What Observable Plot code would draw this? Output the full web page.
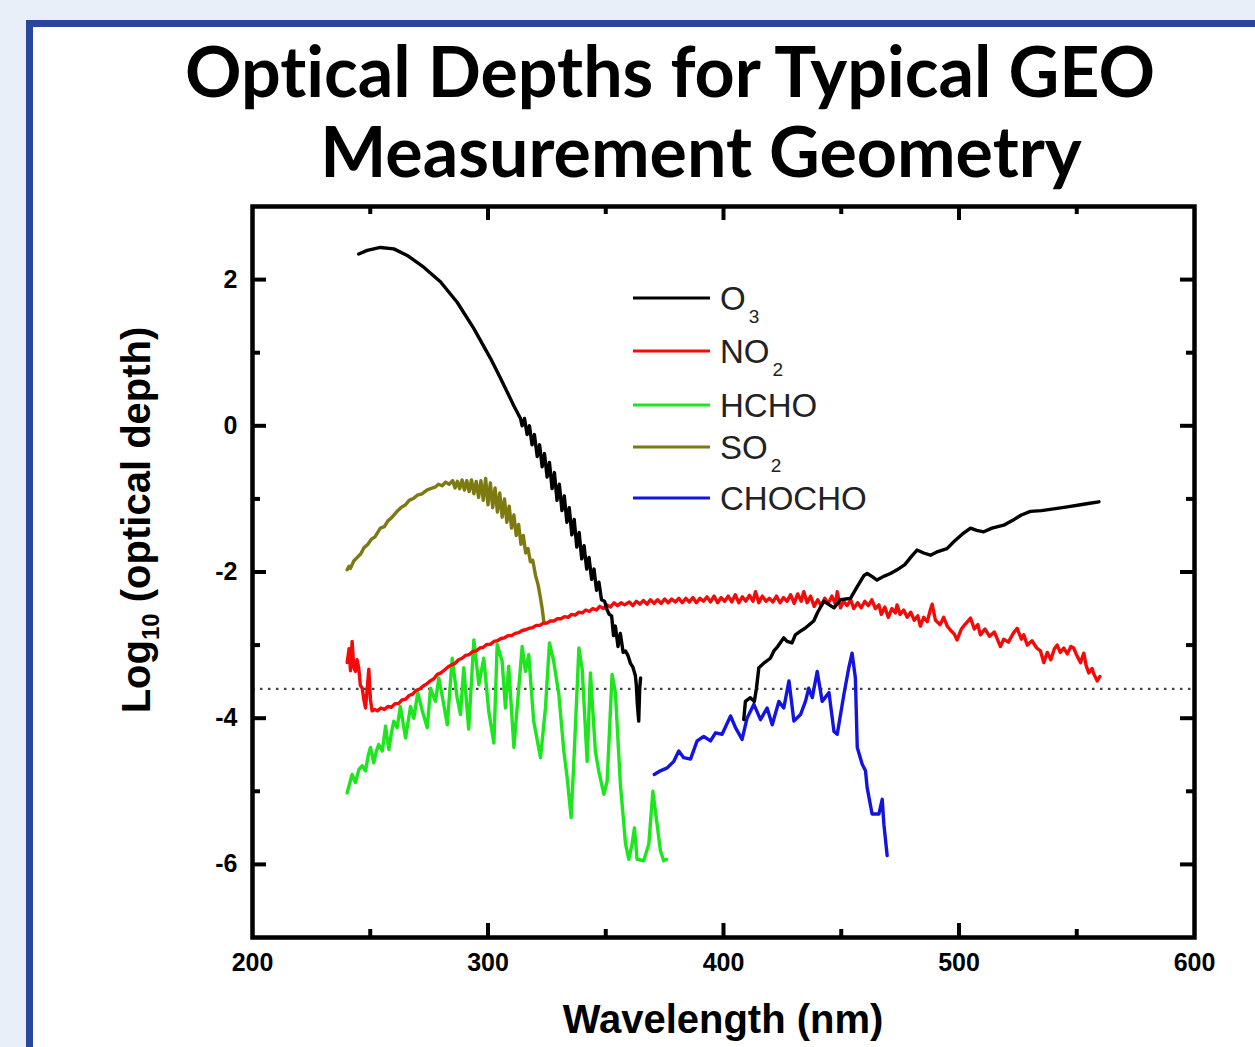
<!DOCTYPE html>
<html><head><meta charset="utf-8">
<script src="https://cdn.jsdelivr.net/npm/d3@7"></script>
<script src="https://cdn.jsdelivr.net/npm/@observablehq/plot@0.6"></script>
<style>
html,body{margin:0;padding:0;overflow:hidden;}
body{width:1255px;height:1047px;background:#e8eff9;position:relative;font-family:"Liberation Sans",Arial,sans-serif;}
#panel{position:absolute;left:26px;top:20px;width:1320px;height:1120px;border:7px solid #2a469c;background:#fff;box-sizing:border-box;}
.title{position:absolute;left:0;font-family:Lato,"Noto Sans",sans-serif;font-weight:700;font-size:70px;line-height:1;color:#000;text-align:center;white-space:nowrap;font-variant-ligatures:none;font-feature-settings:"liga" 0,"clig" 0;}
#chart{position:absolute;left:0;top:190px;}
</style></head><body>
<div id="panel"></div>
<div class="title" style="top:35px;width:1340px">Optical Depths for Typical GEO</div>
<div class="title" style="top:115px;width:1402px">Measurement Geometry</div>
<div id="chart"></div>
<script>
// ---------- data (wavelength nm, log10 optical depth) ----------
const o3UV = [[245.1,2.35],[248.7,2.40],[254.3,2.44],[260.0,2.42],[265.7,2.33],[272.7,2.17],[279.8,1.97],[286.9,1.69],[294.0,1.33],[301.1,0.92],[305.0,0.67],[308.2,0.46],[311.0,0.27],[313.8,0.10],
[314.5,0.00],[315.5,0.10],[316.6,-0.12],[317.6,0.00],[318.7,-0.26],[319.7,-0.12],[320.9,-0.42],[321.9,-0.26],[323.0,-0.56],[324.0,-0.38],[325.1,-0.70],[326.1,-0.50],[327.2,-0.86],[328.2,-0.64],[329.3,-1.02],[330.3,-0.80],[331.4,-1.16],[332.4,-0.96],[333.5,-1.32],[334.5,-1.12],[335.6,-1.49],[336.6,-1.28],[337.7,-1.66],[338.7,-1.46],[339.8,-1.82],[340.8,-1.64],[341.9,-1.96],[342.9,-1.80],[344.0,-2.10],[345.0,-1.96],[346.1,-2.25],[347.1,-2.14],[348.2,-2.38],[349.5,-2.40],[350.6,-2.52],[351.5,-2.58],[352.5,-2.60],[353.3,-2.87],[354.1,-2.74],[355.2,-3.02],[356.2,-2.84],[357.4,-3.10],[358.4,-3.08],[359.4,-3.14],[360.5,-3.25],[361.5,-3.30],[362.6,-3.42],[363.0,-3.55],[363.4,-3.80],[364.0,-4.04],[364.4,-3.60],[364.8,-3.45]];

const o3Vis = [[408.6,-4.02],[409.3,-3.77],[411.4,-3.72],[413.1,-3.77],[414.0,-3.59],[415.0,-3.31],[417.0,-3.25],[419.9,-3.18],[421.4,-3.08],[423.0,-3.02],[425.6,-2.90],[427.0,-2.95],[429.1,-2.97],[430.5,-2.86],[432.7,-2.81],[435.0,-2.76],[438.3,-2.67],[440.0,-2.55],[442.6,-2.40],[444.5,-2.44],[446.9,-2.49],[449.7,-2.38],[453.9,-2.36],[456.8,-2.20],[459.6,-2.05],[461.0,-2.02],[463.0,-2.06],[465.2,-2.11],[468.0,-2.06],[470.9,-2.02],[473.7,-1.97],[477.0,-1.90],[480.0,-1.78],[482.2,-1.70],[485.0,-1.74],[487.9,-1.77],[491.0,-1.72],[494.9,-1.68],[498.0,-1.58],[501.5,-1.48],[504.9,-1.40],[507.5,-1.43],[510.5,-1.45],[514.0,-1.40],[519.0,-1.36],[523.0,-1.29],[526.5,-1.22],[530.3,-1.17],[535.0,-1.16],[541.7,-1.13],[546.0,-1.11],[551.6,-1.08],[555.5,-1.06],[559.4,-1.04]];

const no2 = [[240.2,-3.24],[241.0,-3.05],[241.6,-3.35],[242.3,-2.95],[243.0,-3.30],[243.7,-3.36],[244.4,-3.20],[245.1,-3.31],[245.8,-3.55],[246.6,-3.59],[247.3,-3.75],[248.0,-3.86],[248.7,-3.60],[249.4,-3.33],[250.1,-3.75],[250.8,-3.90],[252.0,-3.88],[253.0,-3.90],[254.5,-3.86],[256.0,-3.88],[257.5,-3.84],[259.0,-3.85],[260.5,-3.80],[262.0,-3.80],[263.5,-3.75],[265.0,-3.74],[266.5,-3.69],[268.0,-3.67],[269.5,-3.62],[271.0,-3.60],[272.5,-3.56],[274.0,-3.53],[275.5,-3.49],[277.0,-3.46],[278.5,-3.40],[280.0,-3.38],[281.5,-3.34],[283.0,-3.30],[284.5,-3.27],[286.0,-3.25],[287.5,-3.20],[289.0,-3.18],[290.5,-3.14],[292.0,-3.13],[293.5,-3.09],[295.0,-3.08],[296.5,-3.04],[298.0,-3.03],[299.5,-2.99],[301.0,-2.99],[302.5,-2.95],[304.0,-2.94],[305.5,-2.91],[307.0,-2.90],[308.5,-2.87],[310.0,-2.87],[311.5,-2.84],[313.0,-2.83],[314.5,-2.80],[316.0,-2.79],[317.5,-2.77],[319.0,-2.76],[320.5,-2.73],[322.0,-2.73],[323.5,-2.70],[325.0,-2.70],[326.5,-2.67],[328.0,-2.67],[329.5,-2.64],[331.0,-2.64],[332.5,-2.61],[334.0,-2.62],[335.5,-2.58],[337.0,-2.59],[338.5,-2.55],[340.0,-2.56],[341.5,-2.52],[343.0,-2.54],[344.5,-2.50],[346.0,-2.52],[347.5,-2.47],[349.0,-2.50],[350.5,-2.45],[352.0,-2.48],[353.5,-2.42],[355.0,-2.46],[356.5,-2.42],[358.0,-2.45],
[360.0,-2.41],[361.5,-2.46],[363.0,-2.40],[364.5,-2.44],[366.0,-2.39],[367.5,-2.44],[369.0,-2.38],[370.5,-2.43],[372.0,-2.38],[373.5,-2.43],[375.0,-2.37],[376.5,-2.42],[378.0,-2.37],[379.5,-2.41],[381.0,-2.36],[382.5,-2.42],[384.0,-2.36],[385.5,-2.41],[387.0,-2.35],[388.5,-2.42],[390.0,-2.36],[391.5,-2.40],[393.0,-2.34],[394.5,-2.41],[396.0,-2.33],[397.5,-2.42],[399.0,-2.35],[400.5,-2.40],[402.0,-2.33],[403.5,-2.41],[405.0,-2.31],[406.5,-2.42],[408.0,-2.34],[409.5,-2.40],[411.0,-2.32],[412.5,-2.40],[413.6,-2.27],[415.0,-2.42],[416.5,-2.33],[418.0,-2.40],[419.5,-2.36],[421.0,-2.41],[422.5,-2.33],[424.0,-2.42],[425.5,-2.35],[427.0,-2.40],[428.5,-2.31],[430.0,-2.43],[431.5,-2.30],[433.0,-2.40],[434.1,-2.27],[435.5,-2.42],[437.0,-2.33],[438.5,-2.47],[440.0,-2.38],[441.5,-2.46],[443.0,-2.36],[444.5,-2.43],[446.0,-2.33],[447.5,-2.44],[448.3,-2.27],[449.7,-2.49],[451.0,-2.40],[452.5,-2.46],[454.0,-2.38],[455.3,-2.50],[457.0,-2.42],[458.5,-2.49],[460.0,-2.40],[461.5,-2.46],[463.0,-2.38],[464.5,-2.50],[466.0,-2.45],[467.0,-2.58],[468.5,-2.48],[470.0,-2.62],[471.5,-2.50],[473.0,-2.56],[473.7,-2.45],[475.0,-2.58],[476.5,-2.52],[478.0,-2.62],[479.5,-2.55],[481.0,-2.66],[482.5,-2.60],[483.6,-2.74],[485.0,-2.62],[486.5,-2.68],[488.0,-2.50],[488.6,-2.44],[490.0,-2.66],[492.0,-2.72],[493.5,-2.62],[495.0,-2.74],[496.5,-2.80],[498.0,-2.85],[499.2,-2.93],[501.0,-2.78],[502.5,-2.72],[504.9,-2.63],[506.5,-2.78],[508.0,-2.72],[509.1,-2.86],[511.0,-2.78],[513.0,-2.88],[515.0,-2.82],[517.6,-3.02],[519.0,-2.92],[521.0,-2.96],[523.0,-2.84],[524.7,-2.77],[526.5,-2.92],[527.5,-2.86],[529.0,-3.00],[531.0,-2.94],[533.0,-3.04],[534.6,-3.08],[536.0,-3.24],[537.5,-3.10],[539.0,-3.20],[540.5,-3.05],[541.7,-3.00],[543.0,-3.10],[544.5,-3.04],[546.0,-3.12],[547.5,-3.02],[548.7,-3.04],[550.0,-3.14],[551.6,-3.24],[553.0,-3.11],[554.0,-3.28],[555.1,-3.38],[556.5,-3.32],[557.3,-3.40],[558.7,-3.49],[559.8,-3.43]];

const hcho = [[240.2,-5.02],[241.2,-4.90],[242.3,-4.77],[243.7,-4.88],[245.2,-4.70],[246.6,-4.65],[248.0,-4.72],[249.2,-4.50],[250.1,-4.40],[251.5,-4.61],[252.6,-4.45],[253.6,-4.36],[255.1,-4.45],[256.5,-4.11],[257.9,-4.43],[259.0,-4.20],[260.0,-4.04],[261.4,-4.13],[262.8,-3.84],[265.0,-4.27],[267.1,-3.84],[268.5,-4.00],[270.2,-3.65],[272.1,-3.90],[274.2,-4.13],[275.6,-3.59],[277.7,-3.77],[279.1,-3.45],[281.2,-3.81],[282.7,-4.09],[284.8,-3.18],[286.9,-3.72],[288.3,-3.95],[289.7,-3.31],[291.8,-4.15],[294.0,-2.93],[296.1,-3.54],[298.2,-3.18],[300.3,-3.90],[302.5,-4.34],[303.9,-2.99],[306.0,-3.22],[307.4,-3.86],[308.8,-3.29],[311.0,-4.40],[314.5,-3.02],[315.9,-3.36],[317.3,-3.13],[319.4,-4.04],[322.3,-4.54],[324.4,-3.86],[326.1,-2.97],[327.9,-3.22],[330.1,-3.68],[332.2,-4.45],[333.6,-4.81],[335.3,-5.36],[336.4,-4.63],[338.6,-3.04],[340.0,-3.33],[342.1,-4.59],[343.5,-3.38],[345.6,-4.45],[347.0,-4.72],[349.2,-5.04],[350.6,-4.86],[352.7,-3.40],[354.1,-3.65],[356.2,-4.90],[358.4,-5.72],[359.8,-5.93],[361.2,-5.72],[362.2,-5.50],[363.3,-5.93],[366.1,-5.95],[368.3,-5.72],[370.0,-5.00],[371.8,-5.45],[373.2,-5.81],[374.6,-5.95],[375.8,-5.93]];

const so2 = [[240.2,-1.97],[241.0,-1.92],[241.6,-1.95],[243.0,-1.85],[244.5,-1.80],[246.0,-1.75],[247.3,-1.67],[249.0,-1.62],[250.5,-1.55],[252.0,-1.52],[254.3,-1.40],[256.0,-1.38],[257.5,-1.30],[259.0,-1.26],[261.4,-1.17],[263.0,-1.12],[265.0,-1.08],[266.5,-1.02],[268.5,-0.99],[270.0,-0.95],[272.0,-0.93],[274.0,-0.88],[275.6,-0.86],[277.5,-0.84],[279.0,-0.80],[280.5,-0.82],[282.0,-0.77],[283.5,-0.80],[285.0,-0.75],[286.0,-0.85],[287.0,-0.76],[288.0,-0.86],[289.0,-0.74],[290.0,-0.88],[291.0,-0.75],[292.0,-0.90],[293.0,-0.74],[294.0,-0.93],[295.0,-0.76],[296.0,-0.98],[297.0,-0.75],[298.0,-1.02],[299.0,-0.72],[300.0,-1.08],[301.0,-0.78],[302.0,-1.12],[303.0,-0.85],[304.0,-1.18],[305.0,-0.92],[306.0,-1.25],[307.0,-1.00],[308.0,-1.32],[309.0,-1.10],[310.0,-1.40],[311.0,-1.22],[312.0,-1.50],[313.0,-1.35],[314.0,-1.62],[315.0,-1.50],[316.0,-1.74],[317.0,-1.68],[318.0,-1.86],[319.0,-1.84],[320.2,-2.05],[321.3,-2.18],[322.3,-2.36],[323.0,-2.50],[323.7,-2.68],[324.4,-2.70]];

const chocho = [[370.6,-4.77],[373.2,-4.72],[376.1,-4.68],[378.9,-4.59],[381.0,-4.45],[383.1,-4.54],[386.0,-4.56],[388.8,-4.31],[391.6,-4.25],[394.5,-4.31],[396.6,-4.20],[399.4,-4.22],[403.0,-3.97],[405.1,-4.13],[407.9,-4.29],[410.0,-4.00],[412.9,-3.81],[415.7,-4.02],[418.5,-3.86],[420.7,-4.09],[423.5,-3.77],[425.6,-3.86],[427.8,-3.49],[429.9,-4.04],[432.7,-3.95],[434.8,-3.77],[436.2,-3.59],[437.7,-3.72],[439.8,-3.36],[441.9,-3.77],[444.8,-3.65],[446.9,-4.18],[448.3,-4.22],[451.1,-3.68],[453.2,-3.31],[454.6,-3.11],[456.0,-3.45],[456.8,-4.40],[458.9,-4.63],[460.3,-4.72],[461.0,-4.95],[463.1,-5.31],[466.0,-5.31],[467.4,-5.11],[468.1,-5.45],[469.5,-5.88]];

const detectionLimit = -3.6;
const xTicks = [200, 300, 400, 500, 600];
const xMinor = [250, 350, 450, 550];
const yTicks = [-6, -4, -2, 0, 2];
const yMinor = [-5, -3, -1, 1];
const legendNames = ["O", "NO", "HCHO", "SO", "CHOCHO"];
const legendSubs = ["3", "2", "", "2", ""];
const colors = {O3: "#000000", NO2: "#f50a0a", HCHO: "#1ee61e", SO2: "#7d7a12", CHOCHO: "#1414e0"};

// ---------- layout ----------
const W = 1255, H = 857, mL = 252, mR = 61, mT = 16, mB = 110;
const iw = W - mL - mR, ih = H - mT - mB;
const top0 = 190; // svg top in page coords

const lineOpts = (c) => ({x: d => d[0], y: d => d[1], stroke: c, strokeWidth: 3.4, strokeLinejoin: "round"});
const tickStyle = {stroke: "#000", strokeWidth: 4};

const plot = Plot.plot({
  width: W, height: H,
  marginLeft: mL, marginRight: mR, marginTop: mT, marginBottom: mB,
  style: {background: "transparent", fontFamily: "'Liberation Sans', Arial, sans-serif", overflow: "visible"},
  x: {domain: [200, 600], label: null},
  y: {domain: [-7, 3], label: null},
  marks: [
    Plot.ruleY([detectionLimit], {stroke: "#444", strokeWidth: 2.2, strokeDasharray: "2.5,5.5"}),
    Plot.line(hcho, lineOpts(colors.HCHO)),
    Plot.line(so2, lineOpts(colors.SO2)),
    Plot.line(chocho, lineOpts(colors.CHOCHO)),
    Plot.line(no2, lineOpts(colors.NO2)),
    Plot.line(o3UV, lineOpts(colors.O3)),
    Plot.line(o3Vis, lineOpts(colors.O3)),
    Plot.frame({stroke: "#000", strokeWidth: 4.5}),
    Plot.tickY(yTicks, {y: d => d, insetRight: iw - 14, ...tickStyle}),
    Plot.tickY(yTicks, {y: d => d, insetLeft: iw - 14, ...tickStyle}),
    Plot.tickY(yMinor, {y: d => d, insetRight: iw - 8, ...tickStyle}),
    Plot.tickY(yMinor, {y: d => d, insetLeft: iw - 8, ...tickStyle}),
    Plot.tickX(xTicks.slice(1, -1), {x: d => d, insetTop: ih - 14, ...tickStyle}),
    Plot.tickX(xTicks.slice(1, -1), {x: d => d, insetBottom: ih - 14, ...tickStyle}),
    Plot.tickX(xMinor, {x: d => d, insetTop: ih - 8, ...tickStyle}),
    Plot.tickX(xMinor, {x: d => d, insetBottom: ih - 8, ...tickStyle}),
    Plot.axisX(xTicks, {tickSize: 0, tickPadding: 16, fontSize: 25, fontWeight: "bold", tickFormat: d => String(d), label: null}),
    Plot.axisY(yTicks, {tickSize: 0, tickPadding: 15, fontSize: 25, fontWeight: "bold", tickFormat: d => String(d), label: null})
  ]
});
document.getElementById("chart").appendChild(plot);

const svg = d3.select(plot);
// y-axis title with subscript
const yl = svg.append("text")
  .attr("transform", `translate(150,${520 - top0}) rotate(-90)`)
  .attr("text-anchor", "middle").attr("font-size", 40).attr("font-weight", "bold").attr("fill", "#000");
yl.append("tspan").text("Log");
yl.append("tspan").attr("font-size", 24).attr("dy", 9).text("10");
yl.append("tspan").attr("dy", -9).text(" (optical depth)");
// x-axis title
svg.append("text").attr("x", mL + iw / 2).attr("y", 1033 - top0)
  .attr("text-anchor", "middle").attr("font-size", 40).attr("font-weight", "bold").attr("fill", "#000")
  .text("Wavelength (nm)");
// legend
const legendColors = [colors.O3, colors.NO2, colors.HCHO, colors.SO2, colors.CHOCHO];
const rowY = [298, 351, 405, 447, 498];
const lg = svg.append("g").attr("text-anchor", "start");
legendNames.forEach((n, i) => {
  const y = rowY[i] - top0;
  lg.append("line").attr("x1", 633).attr("x2", 710).attr("y1", y).attr("y2", y)
    .attr("stroke", legendColors[i]).attr("stroke-width", 2.8);
  const t = lg.append("text").attr("x", 720).attr("y", y + 12).attr("font-size", 33)
    .attr("fill", "#222").attr("text-anchor", "start");
  t.append("tspan").text(n);
  if (legendSubs[i]) t.append("tspan").attr("font-size", 19).attr("dx", 3).attr("dy", 13).text(legendSubs[i]);
});
</script>
</body></html>
